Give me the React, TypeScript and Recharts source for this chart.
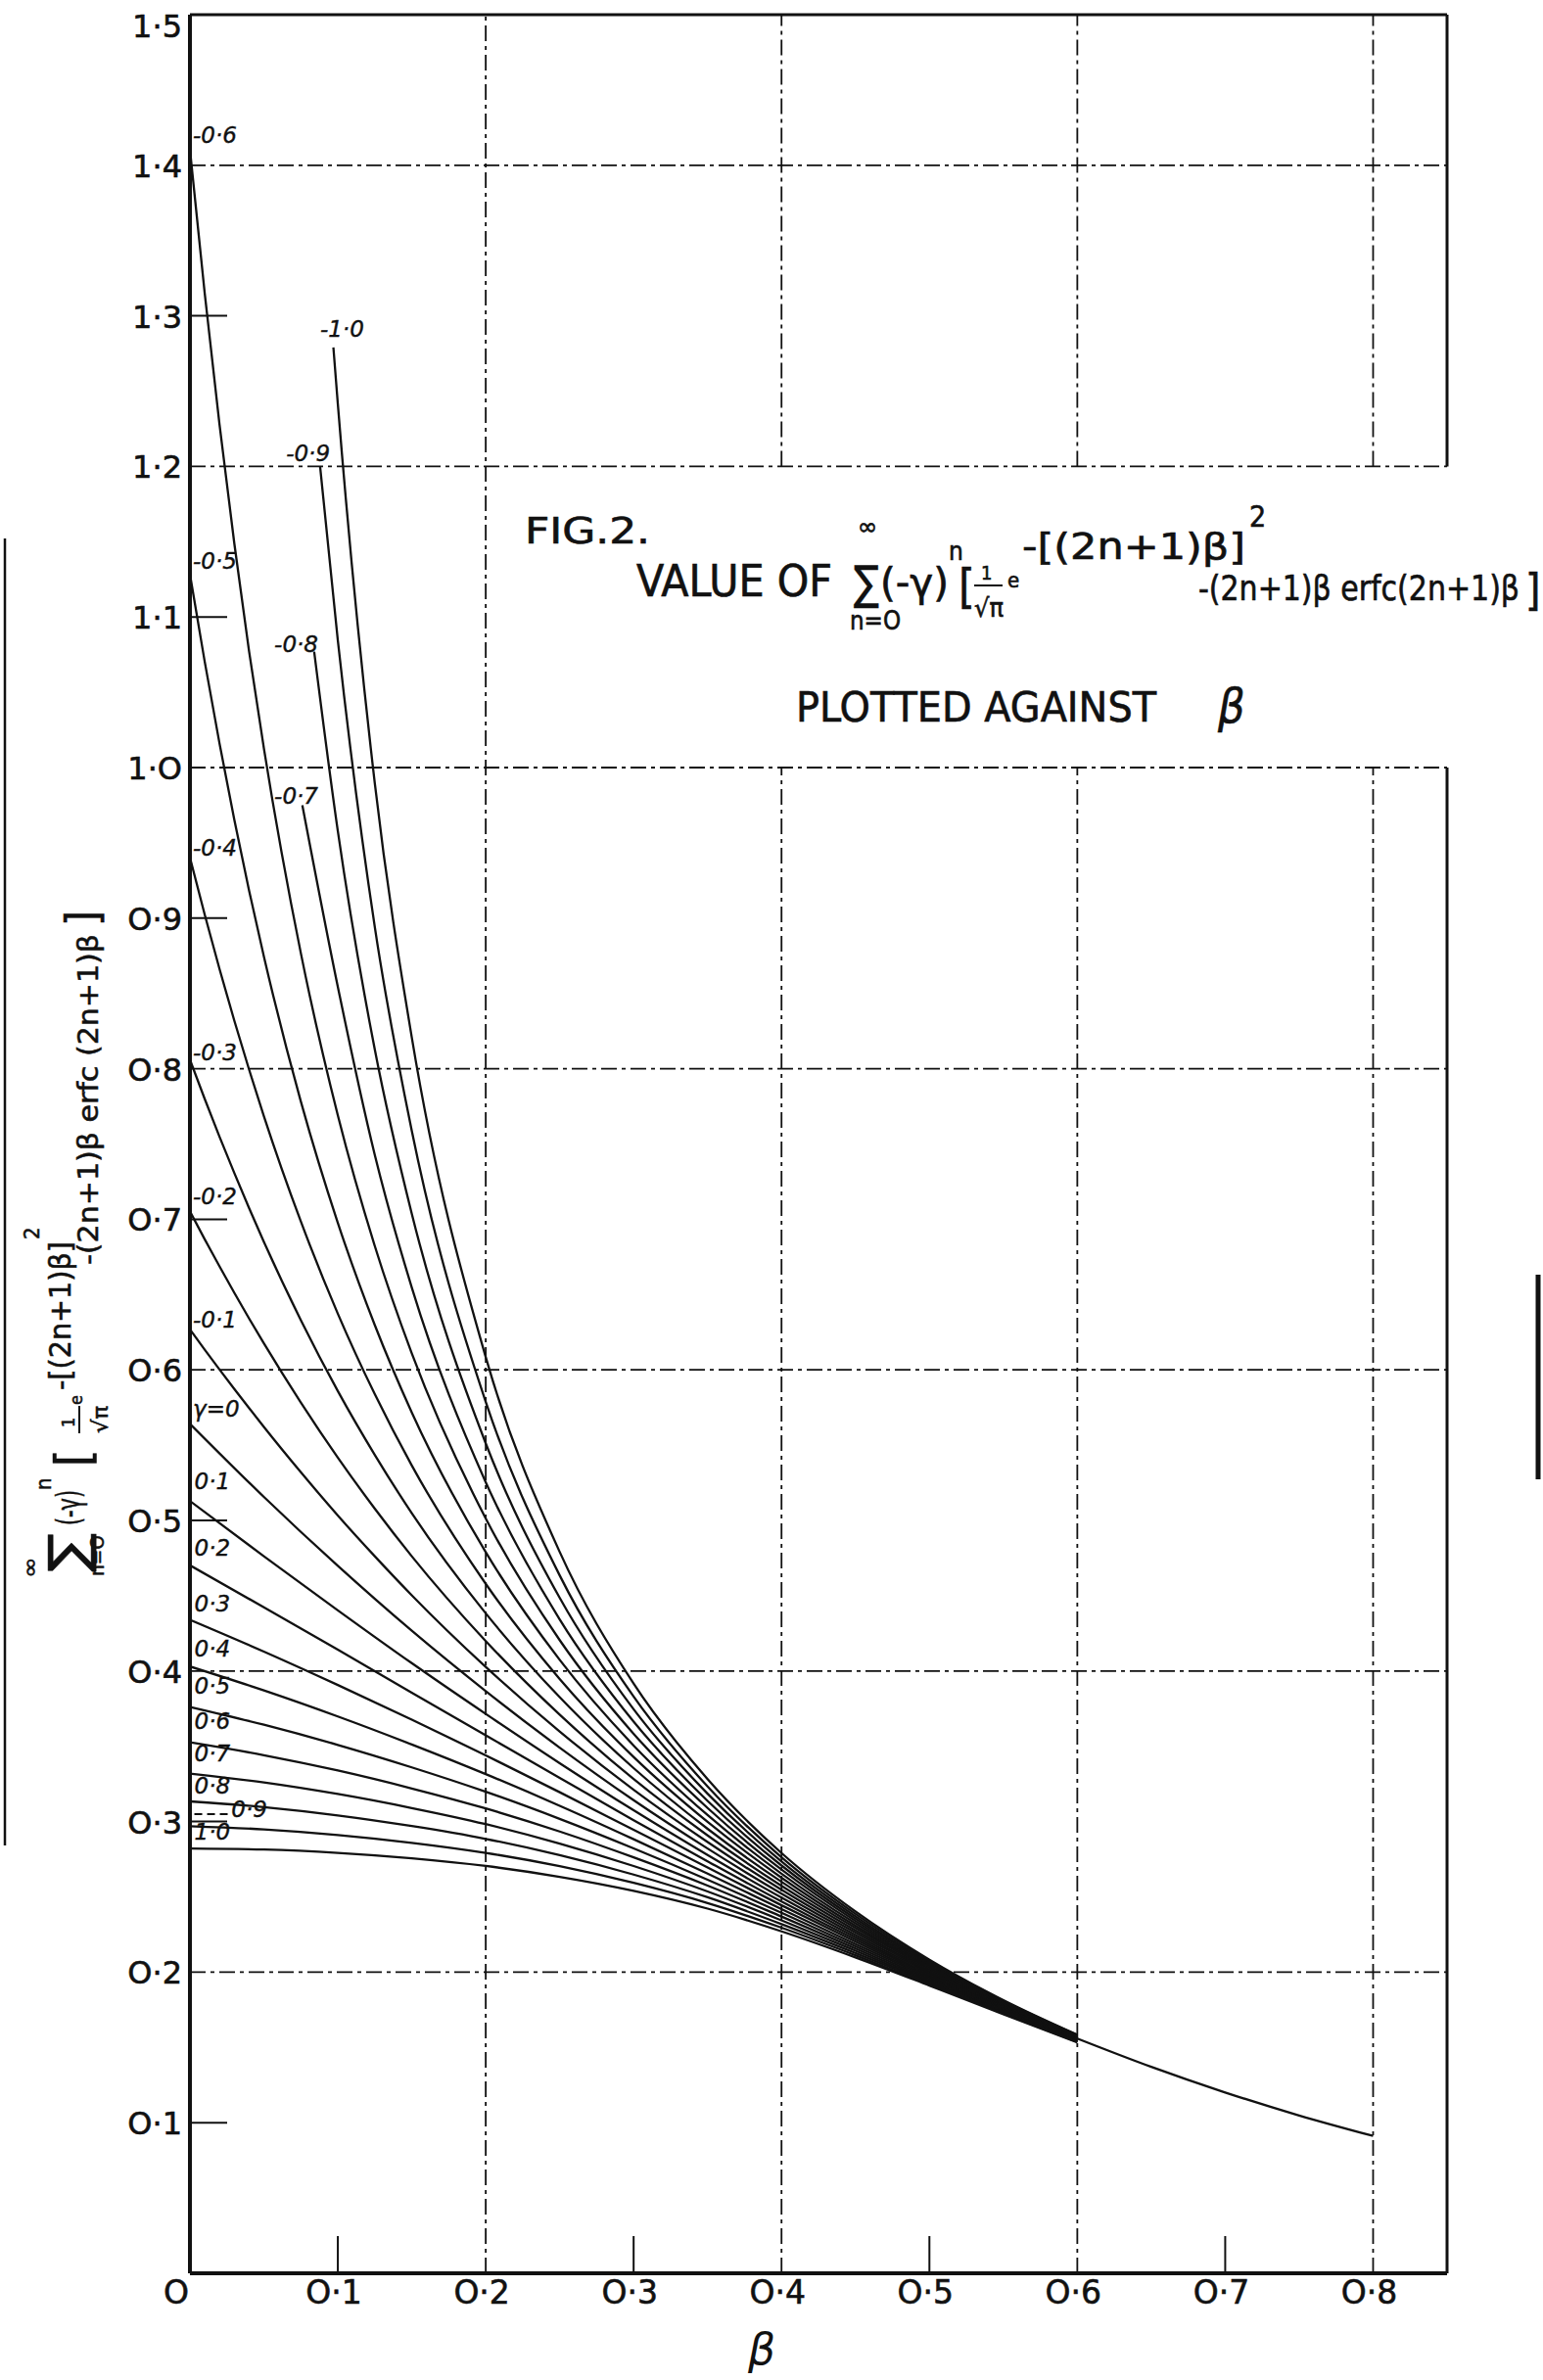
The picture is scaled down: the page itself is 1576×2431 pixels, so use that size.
import React from "react";
import { LineChart, Line, XAxis, YAxis, ReferenceLine } from "recharts";

const W = 1576;
const H = 2431;
// plot frame in page pixels (beta 0..0.85, value 0..1.5)
const LEFT = 194;
const RIGHT = 1478;
const TOP = 15;
const BOTTOM = 2322;
const X_MAX = 0.85;
const Y_MAX = 1.5;
const Y_AXIS_W = 60;
const X_AXIS_H = 40;

const INK = "#111";
const SANS = '"DejaVu Sans", sans-serif';
const COND = '"DejaVu Sans Condensed", "Liberation Sans Narrow", "DejaVu Sans", sans-serif';

const X_TICKS = [0, 0.1, 0.2, 0.3, 0.4, 0.5, 0.6, 0.7, 0.8];
const Y_TICKS = [0.1, 0.2, 0.3, 0.4, 0.5, 0.6, 0.7, 0.8, 0.9, 1.0, 1.1, 1.2, 1.3, 1.4, 1.5];
const GRID_Y = [0.2, 0.4, 0.6, 0.8, 1.0, 1.2, 1.4];
const GRID_X_FULL = [0.2];
const GRID_X_BROKEN = [0.4, 0.6, 0.8];
const TITLE_GAP = [1.0, 1.2];

// beta grids the curves are read on
const BETA_FINE = [0, 0.01, 0.02, 0.03, 0.04, 0.05, 0.075, 0.1, 0.125, 0.15, 0.2, 0.25, 0.3, 0.35, 0.4, 0.45, 0.5, 0.55, 0.6];
const BETA_COARSE = [0, 0.05, 0.1, 0.15, 0.2, 0.25, 0.3, 0.35, 0.4, 0.45, 0.5, 0.55, 0.6];
const BETA_TOP = [0.1, 0.125, 0.15, 0.2, 0.25, 0.3, 0.35, 0.4, 0.45, 0.5, 0.55, 0.6];
const BETA_TAIL = [0.6, 0.65, 0.7, 0.75, 0.8];

// gamma = -1.0 .. -0.7 start part way up; first value sits at TOP_START
const TOP_START = [0.097, 0.088, 0.084, 0.076];
const V_M10 = [1.279, 1.2415, 0.9895, 0.8208, 0.6085, 0.4791, 0.3916, 0.3282, 0.2791, 0.2403, 0.2083, 0.1814, 0.1584];
const V_M09 = [1.2, 1.0845, 0.8941, 0.7588, 0.5788, 0.4635, 0.383, 0.3233, 0.2763, 0.2387, 0.2074, 0.1809, 0.1582];
const V_M08 = [1.077, 0.9578, 0.8127, 0.7037, 0.5512, 0.4486, 0.3746, 0.3185, 0.2735, 0.2371, 0.2065, 0.1805, 0.1579];
const V_M07 = [0.975, 0.8544, 0.7427, 0.6547, 0.5254, 0.4343, 0.3664, 0.3137, 0.2708, 0.2355, 0.2057, 0.18, 0.1577];

// gamma = -0.6 .. -0.1 on BETA_FINE
const V_M06 = [1.4105, 1.3149, 1.2278, 1.1489, 1.0771, 1.0128, 0.8767, 0.769, 0.6822, 0.6109, 0.5013, 0.4205, 0.3583, 0.309, 0.2681, 0.234, 0.2048, 0.1795, 0.1574];
const V_M05 = [1.1284, 1.0703, 1.016, 0.9654, 0.9183, 0.8745, 0.7782, 0.6976, 0.6297, 0.5717, 0.4789, 0.4074, 0.3505, 0.3043, 0.2654, 0.2324, 0.2039, 0.1791, 0.1572];
const V_M04 = [0.9403, 0.9023, 0.8662, 0.8319, 0.7994, 0.7685, 0.6985, 0.6373, 0.5838, 0.5365, 0.4579, 0.3947, 0.3429, 0.2998, 0.2627, 0.2308, 0.2031, 0.1786, 0.1569];
const V_M03 = [0.806, 0.7799, 0.7548, 0.7307, 0.7074, 0.685, 0.633, 0.5859, 0.5435, 0.5048, 0.4383, 0.3826, 0.3355, 0.2952, 0.26, 0.2293, 0.2022, 0.1781, 0.1567];
const V_M02 = [0.7052, 0.6867, 0.6687, 0.6512, 0.6341, 0.6176, 0.5783, 0.5417, 0.5078, 0.4762, 0.4199, 0.371, 0.3282, 0.2908, 0.2573, 0.2278, 0.2013, 0.1776, 0.1564];
const V_M01 = [0.6269, 0.6134, 0.6002, 0.5873, 0.5746, 0.5621, 0.532, 0.5033, 0.4762, 0.4503, 0.4027, 0.3598, 0.3211, 0.2864, 0.2547, 0.2262, 0.2005, 0.1772, 0.1562];

// gamma = 0 .. 1.0 on BETA_COARSE
const V_00 = [0.5642, 0.5156, 0.4698, 0.4267, 0.3866, 0.3491, 0.3142, 0.2821, 0.2521, 0.2247, 0.1996, 0.1767, 0.1559];
const V_01 = [0.5129, 0.4762, 0.4403, 0.4052, 0.3715, 0.3388, 0.3075, 0.2778, 0.2495, 0.2232, 0.1987, 0.1762, 0.1557];
const V_02 = [0.4702, 0.4423, 0.4141, 0.3856, 0.3573, 0.329, 0.3009, 0.2736, 0.2469, 0.2217, 0.1979, 0.1758, 0.1554];
const V_03 = [0.434, 0.4129, 0.3907, 0.3677, 0.344, 0.3195, 0.2945, 0.2695, 0.2444, 0.2202, 0.197, 0.1753, 0.1552];
const V_04 = [0.403, 0.3871, 0.3698, 0.3512, 0.3315, 0.3105, 0.2883, 0.2654, 0.2419, 0.2186, 0.1962, 0.1748, 0.1549];
const V_05 = [0.3761, 0.3643, 0.3509, 0.336, 0.3198, 0.3018, 0.2822, 0.2614, 0.2394, 0.2172, 0.1953, 0.1744, 0.1547];
const V_06 = [0.3526, 0.3441, 0.3339, 0.322, 0.3087, 0.2934, 0.2762, 0.2575, 0.2369, 0.2157, 0.1945, 0.1739, 0.1544];
const V_07 = [0.3319, 0.326, 0.3183, 0.309, 0.2983, 0.2854, 0.2705, 0.2536, 0.2344, 0.2142, 0.1936, 0.1734, 0.1542];
const V_08 = [0.3134, 0.3096, 0.3041, 0.297, 0.2885, 0.2777, 0.2648, 0.2497, 0.2319, 0.2127, 0.1928, 0.1729, 0.1539];
const V_09 = [0.2969, 0.2948, 0.2911, 0.2859, 0.2792, 0.2704, 0.2593, 0.2459, 0.2295, 0.2112, 0.1919, 0.1725, 0.1537];
const V_10 = [0.2821, 0.2814, 0.2792, 0.2756, 0.2705, 0.2633, 0.254, 0.2422, 0.2271, 0.2098, 0.1911, 0.172, 0.1534];

// single merged curve beyond 0.6
const V_TAIL = [0.1559, 0.1371, 0.1201, 0.1048, 0.0912];

// curve labels: text, anchor beta, anchor value (left / middle of text)
const LABEL_TEXT = ["-0·6", "-0·5", "-0·4", "-0·3", "-0·2", "-0·1", "γ=0", "0·1", "0·2", "0·3", "0·4", "0·5", "0·6", "0·7", "0·8", "0·9", "1·0", "-1·0", "-0·9", "-0·8", "-0·7"];
const LABEL_B = [0.002, 0.002, 0.002, 0.002, 0.002, 0.002, 0.002, 0.003, 0.003, 0.003, 0.003, 0.003, 0.003, 0.003, 0.003, 0.028, 0.003, 0.088, 0.065, 0.057, 0.057];
const LABEL_V = [1.42, 1.137, 0.947, 0.811, 0.715, 0.633, 0.574, 0.526, 0.482, 0.445, 0.415, 0.39, 0.367, 0.345, 0.324, 0.308, 0.293, 1.291, 1.209, 1.082, 0.981];

const rows = (b: number[], v: number[]) => b.map((x, i) => ({ b: x, v: v[i] }));

const SERIES = [
  rows([TOP_START[0], ...BETA_TOP], V_M10),
  rows([TOP_START[1], ...BETA_TOP], V_M09),
  rows([TOP_START[2], ...BETA_TOP], V_M08),
  rows([TOP_START[3], ...BETA_TOP], V_M07),
  ...[V_M06, V_M05, V_M04, V_M03, V_M02, V_M01].map((v) => rows(BETA_FINE, v)),
  ...[V_00, V_01, V_02, V_03, V_04, V_05, V_06, V_07, V_08, V_09, V_10].map((v) => rows(BETA_COARSE, v)),
  rows(BETA_TAIL, V_TAIL),
];

const px = (b: number) => LEFT + (b / X_MAX) * (RIGHT - LEFT);
const py = (v: number) => BOTTOM - (v / Y_MAX) * (BOTTOM - TOP);

const fmt = (v: number) => (v === 0 ? "O" : v.toFixed(1).replace(/0/g, "O").replace(".", "·"));
const isOdd = (v: number) => Math.round(v * 10) % 2 === 1;

const XTick = (props: any) => {
  const { x, y, payload } = props;
  const v = payload.value;
  return (
    <g>
      {isOdd(v) && <line x1={x} x2={x} y1={y} y2={y - 38} stroke={INK} strokeWidth={2} />}
      <text x={v === 0 ? x - 14 : x - 4} y={y + 31} textAnchor="middle" fontFamily={SANS} fontSize={33}
        fill={INK} stroke={INK} strokeWidth={0.6}>
        {fmt(v)}
      </text>
    </g>
  );
};

const YTick = (props: any) => {
  const { x, y, payload } = props;
  const v = payload.value;
  return (
    <g>
      {isOdd(v) && v < 1.45 && <line x1={x} x2={x + 38} y1={y} y2={y} stroke={INK} strokeWidth={2} />}
      <text x={x - 8} y={y + (v > 1.45 ? 23 : 12)} textAnchor="end" fontFamily={SANS} fontSize={32}
        fill={INK} stroke={INK} strokeWidth={0.6}>
        {fmt(v)}
      </text>
    </g>
  );
};

const dash = "16 5 4 5";

function Title() {
  const t = { fontFamily: COND, fill: INK, stroke: INK, strokeWidth: 0.6 };
  const fit = { lengthAdjust: "spacingAndGlyphs" as const };
  return (
    <g>
      <text x={536} y={555} fontSize={38} textLength={128} {...fit} {...t}>FIG.2.</text>
      <text x={650} y={609} fontSize={44} textLength={200} {...fit} {...t}>VALUE OF</text>
      <text x={876} y={546} fontSize={24} textLength={20} {...fit} {...t}>∞</text>
      <text x={872} y={612} fontSize={48} textLength={26} {...fit} {...t}>∑</text>
      <text x={868} y={643} fontSize={26} textLength={52} {...fit} {...t}>n=O</text>
      <text x={899} y={609} fontSize={40} textLength={70} {...fit} {...t}>(-γ)</text>
      <text x={969} y={572} fontSize={26} {...t}>n</text>
      <text x={979} y={616} fontSize={48} {...t}>[</text>
      <text x={1002} y={592} fontSize={20} {...t}>1</text>
      <line x1={995} x2={1024} y1={598} y2={598} stroke={INK} strokeWidth={2} />
      <text x={995} y={630} fontSize={26} textLength={30} {...fit} {...t}>√π</text>
      <text x={1029} y={600} fontSize={22} {...t}>e</text>
      <text x={1044} y={571} fontSize={38} textLength={228} {...fit} {...t}>-[(2n+1)β]</text>
      <text x={1276} y={538} fontSize={30} {...t}>2</text>
      <text x={1224} y={613} fontSize={36} textLength={328} {...fit} {...t}>-(2n+1)β erfc(2n+1)β</text>
      <text x={1558} y={618} fontSize={44} {...t}>]</text>
      <text x={813} y={737} fontSize={42} textLength={368} {...fit} {...t}>PLOTTED AGAINST</text>
      <text x={1244} y={738} fontSize={48} fontStyle="italic" {...t}>β</text>
    </g>
  );
}

function AxisFormula() {
  const t = { fontFamily: COND, fill: INK, stroke: INK, strokeWidth: 0.5 };
  const fit = { lengthAdjust: "spacingAndGlyphs" as const };
  return (
    <g transform="translate(0,1618) rotate(-90)">
      <text x={6} y={38} fontSize={22} textLength={22} {...fit} {...t}>∞</text>
      <text x={12} y={88} fontSize={54} textLength={40} {...fit} {...t}>∑</text>
      <text x={8} y={106} fontSize={20} textLength={42} {...fit} {...t}>n=O</text>
      <text x={60} y={82} fontSize={34} textLength={36} {...fit} {...t}>(-γ)</text>
      <text x={96} y={52} fontSize={22} {...t}>n</text>
      <text x={120} y={92} fontSize={50} {...t}>[</text>
      <text x={160} y={76} fontSize={18} {...t}>1</text>
      <line x1={154} x2={182} y1={81} y2={81} stroke={INK} strokeWidth={2} />
      <text x={154} y={110} fontSize={22} textLength={28} {...fit} {...t}>√π</text>
      <text x={183} y={84} fontSize={18} {...t}>e</text>
      <text x={198} y={72} fontSize={30} textLength={152} {...fit} {...t}>-[(2n+1)β]</text>
      <text x={352} y={40} fontSize={22} {...t}>2</text>
      <text x={326} y={100} fontSize={28} textLength={338} {...fit} {...t}>-(2n+1)β erfc (2n+1)β</text>
      <text x={672} y={100} fontSize={46} {...t}>]</text>
    </g>
  );
}

export default function App() {
  return (
    <div style={{ position: "relative", width: W, height: H, background: "#fff" }}>
      <style>{"body{margin:0;background:#fff}"}</style>
      <LineChart
        width={W}
        height={H}
        margin={{ top: TOP, right: W - RIGHT, bottom: H - BOTTOM - X_AXIS_H, left: LEFT - Y_AXIS_W }}
      >
        <XAxis
          type="number"
          dataKey="b"
          domain={[0, X_MAX]}
          ticks={X_TICKS}
          height={X_AXIS_H}
          tickSize={0}
          tickMargin={0}
          tickLine={false}
          axisLine={{ stroke: INK, strokeWidth: 4 }}
          tick={<XTick />}
          allowDataOverflow
        />
        <YAxis
          type="number"
          domain={[0, Y_MAX]}
          ticks={Y_TICKS}
          width={Y_AXIS_W}
          tickSize={0}
          tickMargin={0}
          tickLine={false}
          axisLine={{ stroke: INK, strokeWidth: 4 }}
          tick={<YTick />}
          allowDataOverflow
        />
        {GRID_Y.map((v) => (
          <ReferenceLine key={"gy" + v} y={v} stroke={INK} strokeWidth={1.8} strokeDasharray={dash} />
        ))}
        {GRID_X_FULL.map((b) => (
          <ReferenceLine key={"gx" + b} x={b} stroke={INK} strokeWidth={1.8} strokeDasharray={dash} />
        ))}
        {GRID_X_BROKEN.map((b) => [
          <ReferenceLine key={"gxa" + b} segment={[{ x: b, y: 0 }, { x: b, y: TITLE_GAP[0] }]} stroke={INK} strokeWidth={1.8} strokeDasharray={dash} />,
          <ReferenceLine key={"gxb" + b} segment={[{ x: b, y: TITLE_GAP[1] }, { x: b, y: Y_MAX }]} stroke={INK} strokeWidth={1.8} strokeDasharray={dash} />,
        ])}
        <ReferenceLine y={Y_MAX} stroke={INK} strokeWidth={3} />
        <ReferenceLine segment={[{ x: X_MAX, y: 0 }, { x: X_MAX, y: TITLE_GAP[0] }]} stroke={INK} strokeWidth={3} />
        <ReferenceLine segment={[{ x: X_MAX, y: TITLE_GAP[1] }, { x: X_MAX, y: Y_MAX }]} stroke={INK} strokeWidth={3} />
        {SERIES.map((d, i) => (
          <Line
            key={i}
            data={d}
            dataKey="v"
            type="monotone"
            dot={false}
            activeDot={false}
            stroke={INK}
            strokeWidth={2.3}
            isAnimationActive={false}
          />
        ))}
      </LineChart>
      <svg width={W} height={H} style={{ position: "absolute", left: 0, top: 0, pointerEvents: "none" }}>
        <Title />
        <AxisFormula />
        {LABEL_TEXT.map((s, i) => (
          <text
            key={s + i}
            x={px(LABEL_B[i])}
            y={py(LABEL_V[i]) + 8}
            fontFamily={SANS}
            fontStyle="italic"
            fontSize={23}
            fill={INK}
            stroke={INK}
            strokeWidth={0.4}
          >
            {s}
          </text>
        ))}
        <line x1={px(0.003)} x2={px(0.026)} y1={py(0.305)} y2={py(0.305)} stroke={INK} strokeWidth={2} strokeDasharray="8 5" />
        <text x={778} y={2415} textAnchor="middle" fontFamily={SANS} fontStyle="italic" fontSize={44} fill={INK}>
          β
        </text>
        {/* scanner edge marks */}
        <line x1={5} x2={5} y1={550} y2={1885} stroke={INK} strokeWidth={2.5} />
        <line x1={1571} x2={1571} y1={1302} y2={1511} stroke={INK} strokeWidth={5} />
      </svg>
    </div>
  );
}
